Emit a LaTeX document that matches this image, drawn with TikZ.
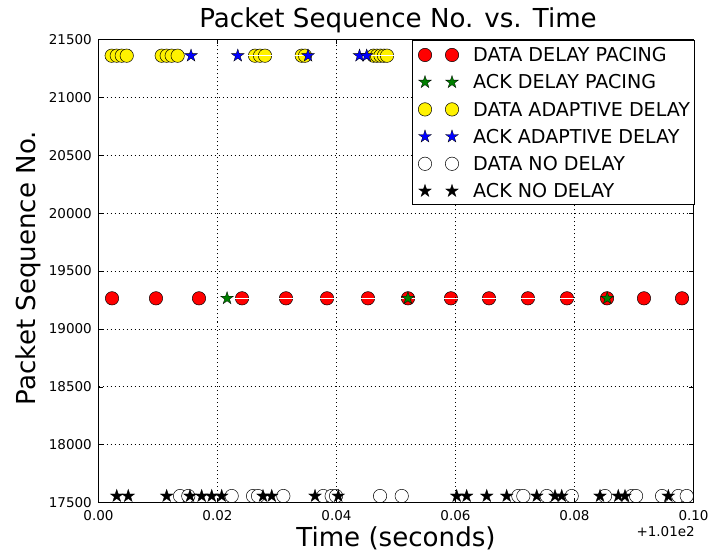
\documentclass[tikz,border=0pt]{standalone}
\usepackage{fontspec}
\setmainfont{DejaVu Sans}
\usetikzlibrary{shapes.geometric}

\begin{document}
\begin{tikzpicture}[x=1pt,y=-1pt,
		dat/.style={circle,draw=black,line width=0.5pt,minimum size=13.4pt,inner sep=0pt},
		ack/.style={star,star points=5,star point ratio=2.618,draw=black,line width=0.3pt,minimum size=13.4pt,inner sep=0pt},
		ticklbl/.style={font=\fontsize{13.5}{16}\selectfont,inner sep=0pt},
		biglbl/.style={font=\fontsize{26.1}{30}\selectfont,inner sep=0pt},
		keylbl/.style={font=\fontsize{19.1}{22}\selectfont,inner sep=0pt,anchor=base west},
		gridln/.style={black,dash pattern=on 1pt off 3pt,line width=0.6pt}]
		\useasboundingbox (0,0) rectangle (712,553);
		% plot area in data units: x = time-101 s, y = seq.no.-17500
		\begin{scope}[shift={(98.5,502.5)},x=5950pt,y=0.11575pt]
			\coordinate (ll) at (0,0);
			\coordinate (ur) at (0.1,4000);
			% DATA DELAY PACING
			\foreach \t [count=\i] in {0.00227,0.00966,0.01689,0.02412,0.03151,0.0384,0.04529,0.05202,0.05924,0.06563,0.07218,0.07874,0.08546,0.09168,0.09807}
				\node[dat,fill=red] (red\i) at (\t,1764) {};
			\draw[white,line width=1pt] (red4.west) -- (red12.east);
			% ACK DELAY PACING
			\foreach \t [count=\i] in {0.0216,0.0520,0.0855}
				\node[ack,fill=green!50!black] (grn\i) at (\t,1764) {};
			% DATA ADAPTIVE DELAY
			\foreach \t [count=\i] in {0.00222,0.00306,0.0039,0.00474,0.01062,0.01146,0.0123,0.01331,0.0263,0.02714,0.02798,0.03415,0.03471,0.04622,0.0468,0.04739,0.04798,0.04849}
				\node[dat,fill=yellow] (yel\i) at (\t,3860) {};
			\draw[white,line width=1pt] (yel9.west) -- (yel18.east);
			% ACK ADAPTIVE DELAY
			\foreach \t [count=\i] in {0.01555,0.0234,0.03521,0.04387,0.04508}
				\node[ack,fill=blue] (blu\i) at (\t,3860) {};
			% DATA NO DELAY
			\foreach \t [count=\i] in {0.0137,0.01509,0.02239,0.02597,0.02681,0.03106,0.03778,0.03919,0.03992,0.04731,0.05096,0.07055,0.07139,0.07533,0.07953,0.08513,0.08961,0.09034,0.09471,0.09745,0.09886}
				\node[dat,fill=white] (wht\i) at (\t,56) {};
			% ACK NO DELAY
			\foreach \t [count=\i] in {0.00306,0.00501,0.01146,0.01538,0.01734,0.01903,0.02071,0.02765,0.02911,0.03639,0.0403,0.0602,0.06188,0.06524,0.0686,0.07365,0.07672,0.07785,0.08429,0.08736,0.08849,0.09576}
				\node[ack,fill=black] (blk\i) at (\t,56) {};
			% grid
			\foreach \v in {500,1000,...,3500}
				\draw[gridln] (0,\v) -- (0.1,\v);
			\foreach \t in {0.02,0.04,0.06,0.08}
				\draw[gridln] (\t,0) -- (\t,4000);
			\draw[line width=1pt] (ll) rectangle (ur);
			% ticks and tick labels
			\foreach \t/\s [count=\i] in {0/0.00,0.02/0.02,0.04/0.04,0.06/0.06,0.08/0.08,0.1/0.10} {
				\draw (\t,0) -- ++(0,4.5pt);
				\draw (\t,4000) -- ++(0,-4.5pt);
				\node[ticklbl,anchor=base] (xt\i) at ([yshift=-17.5pt]\t,0) {\s};
			}
			\foreach \v/\s [count=\i] in {0/17500,500/18000,1000/18500,1500/19000,2000/19500,2500/20000,3000/20500,3500/21000,4000/21500} {
				\draw (0,\v) -- ++(4.5pt,0);
				\draw (0.1,\v) -- ++(-4.5pt,0);
				\node[ticklbl,anchor=east] (yt\i) at ([xshift=-6.5pt]0,\v) {\s};
			}
		\end{scope}
		\node[ticklbl,anchor=base east] (offs) at (695,536) {+1.01e2};
		% titles
		\node[biglbl,anchor=base] (title) at (398,28) {Packet Sequence No. vs. Time};
		\node[biglbl,anchor=base] (xlab) at (396,546) {Time (seconds)};
		\node[biglbl,anchor=base,rotate=90] (ylab) at (35,268) {Packet Sequence No.};
		% legend
		\node[draw=black,fill=white,line width=0.8pt,minimum width=282pt,minimum height=164pt,anchor=north west,inner sep=0pt] (key) at (412,40) {};
		\foreach \c/\m/\s [count=\k] in {red/dat/DATA DELAY PACING,green!50!black/ack/ACK DELAY PACING,yellow/dat/DATA ADAPTIVE DELAY,blue/ack/ACK ADAPTIVE DELAY,white/dat/DATA NO DELAY,black/ack/ACK NO DELAY} {
			\pgfmathsetmacro\ry{55+27.2*(\k-1)}
			\node[\m,fill=\c] (ka\k) at (425,\ry) {};
			\node[\m,fill=\c] (kb\k) at (452,\ry) {};
			\node[keylbl] (kt\k) at (473,{\ry+6.75}) {\s};
		}
	\end{tikzpicture}
\end{document}
